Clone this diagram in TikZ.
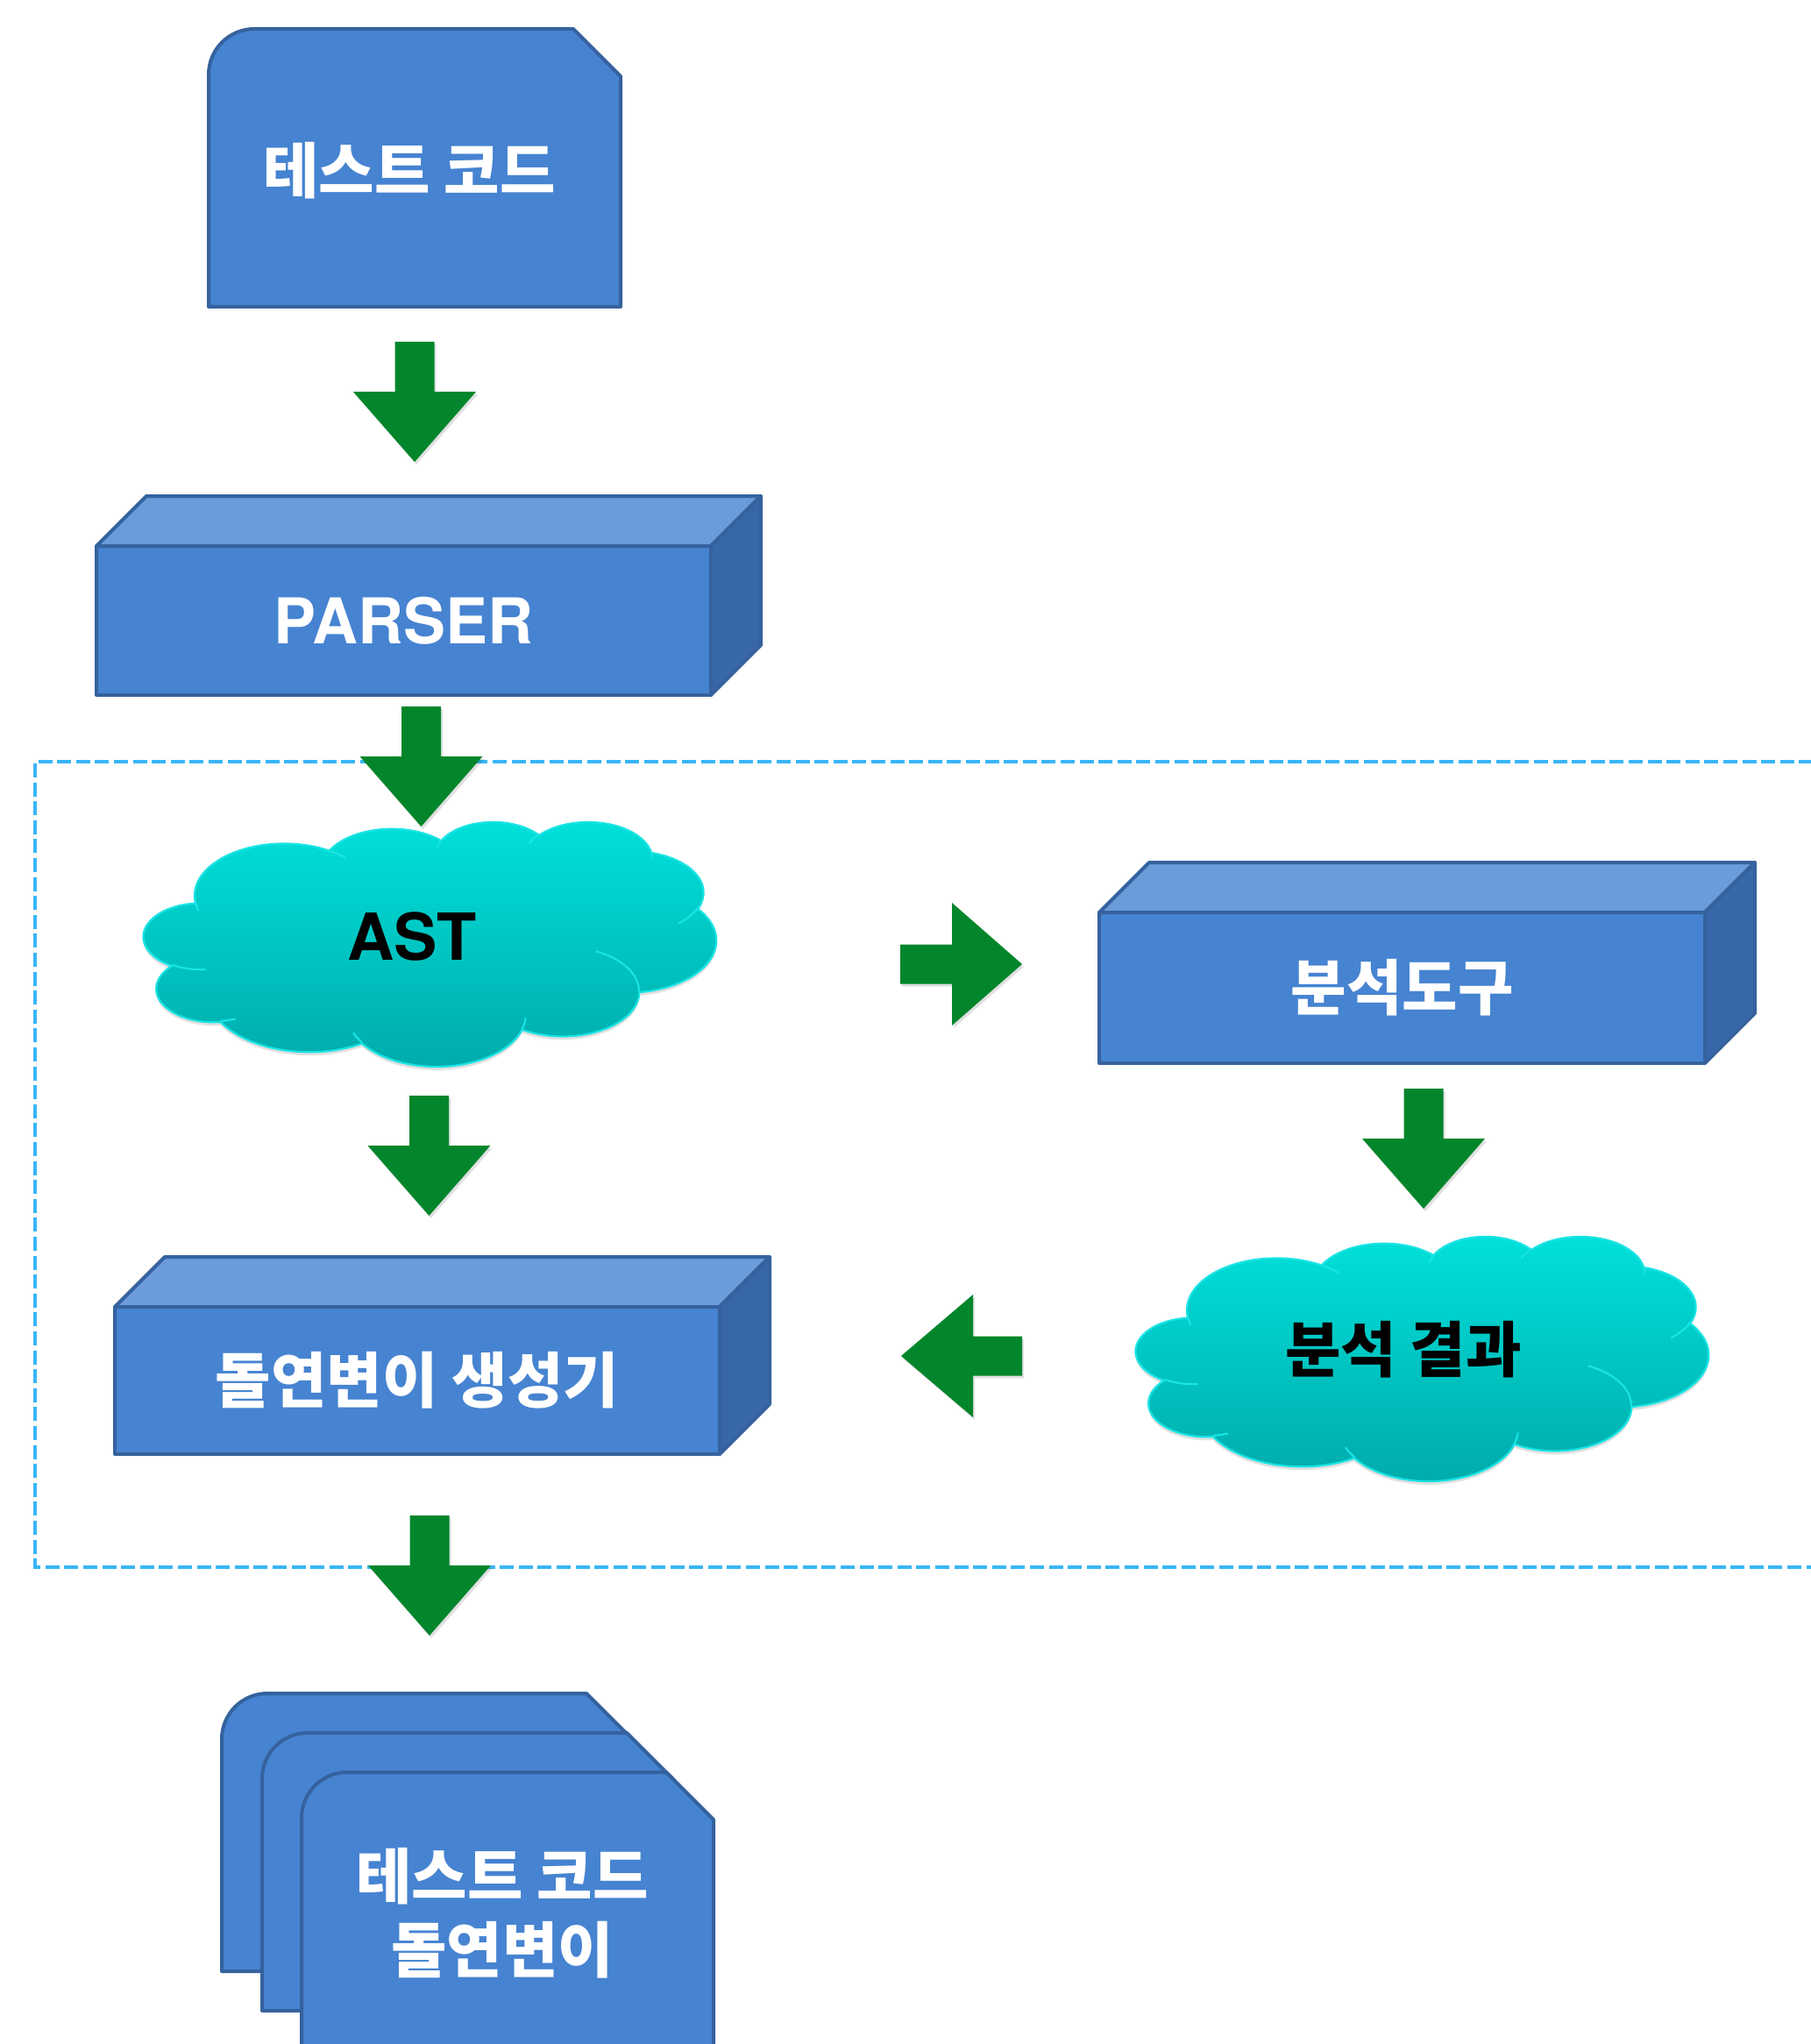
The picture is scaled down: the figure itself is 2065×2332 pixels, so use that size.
\documentclass[tikz,border=0pt]{standalone}
\usepackage{fontspec}
\setmainfont{TeX Gyre Heros}
\newfontfamily\krfont{Noto Sans CJK KR}
\definecolor{boxblue}{HTML}{4683D1}
\definecolor{boxline}{HTML}{35629E}
\definecolor{boxtop}{HTML}{6A9BDB}
\definecolor{boxside}{HTML}{3867A9}
\definecolor{agreen}{HTML}{03862B}
\definecolor{dashblue}{HTML}{38B6F7}
\definecolor{cloudtop}{HTML}{00E1DB}
\definecolor{cloudbot}{HTML}{00AAAA}
\definecolor{cloudedge}{HTML}{19E4E4}

\newcommand\cldarc[4]{arc[start angle={cldt(#1,#2,#3)},delta angle={cldd(#1,#2,#3,#4)},x radius=#1,y radius=#2]}
\newcommand\cldouter{(39.00,143.70)
 \cldarc{67.53}{91.90}{-190.4875}{123.7805}
 \cldarc{53.33}{72.67}{-144.1024}{89.9452}
 \cldarc{43.65}{59.45}{-145.8079}{99.7230}
 \cldarc{48.57}{65.95}{-130.9861}{117.2417}
 \cldarc{53.33}{72.73}{-78.7089}{109.0269}
 \cldarc{67.75}{92.20}{-46.2673}{130.2690}
 \cldarc{57.85}{78.67}{0.6250}{114.0333}
 \cldarc{67.52}{92.15}{22.4516}{115.1726}
 \cldarc{77.20}{105.43}{66.2426}{75.7110}
 \cldarc{43.60}{59.18}{-274.9421}{146.7356}
 \cldarc{43.45}{59.45}{-246.8285}{152.5189} -- cycle}
\newcommand\cldinner{(46.93,261.77) \cldarc{43.45}{59.45}{86.7420}{26.4295}
 (69.28,348.99) \cldarc{43.60}{59.18}{73.6105}{11.4475}
 (164.78,390.90) \cldarc{67.52}{92.15}{137.6242}{14.0811}
 (288.27,347.51) \cldarc{67.52}{92.15}{6.4533}{15.9984}
 (341.29,229.54) \cldarc{57.85}{78.67}{-70.2924}{70.9174}
 (417.98,153.54) \cldarc{53.33}{72.73}{30.3180}{27.7515}
 (383.24,54.26) \cldarc{48.57}{65.95}{-13.7443}{14.8589}
 (290.78,39.52) \cldarc{48.57}{65.95}{-149.1815}{18.1954}
 (221.41,47.20) \cldarc{43.65}{59.45}{-163.4943}{17.6864}
 (140.00,51.92) \cldarc{67.53}{91.90}{-66.7070}{12.3194}
 (41.27,157.89) \cldarc{67.53}{91.90}{157.6544}{11.8582}}
\newcommand\pptcloud[4]{%
 \begin{scope}[shift={(#1,#2)},xscale=#3/432,yscale=#4/432]
  \fill[black,opacity=0.12,yshift=-3pt] \cldouter;
  \path[top color=cloudtop,bottom color=cloudbot,draw=cloudedge,line width=1.1pt] \cldouter;
  \draw[cloudedge,line width=1.1pt] \cldinner;
 \end{scope}}
\newcommand\docshape[2]{%
 \filldraw[card] (#1,#2+317) -- (#1,#2+52) arc[start angle=180,end angle=90,radius=26pt]
   -- (#1+416,#2) -- (#1+470,#2+54) -- (#1+470,#2+317) -- cycle;}
\newcommand\cubefaces[1]{%
 \filldraw[topface] (#1.north west) -- ++(57,-57) -- ([shift={(57,-57)}]#1.north east) -- (#1.north east) -- cycle;
 \filldraw[sideface] (#1.north east) -- ++(57,-57) -- ([shift={(57,-57)}]#1.south east) -- (#1.south east) -- cycle;}

\begin{document}
\begin{tikzpicture}[x=0.5pt,y=-0.5pt,
  declare function={cldt(\rw,\rh,\ang)=atan2(\rw*sin(\ang),\rh*cos(\ang));
    cldd(\rw,\rh,\ang,\swp)=mod(cldt(\rw,\rh,\ang+\swp)-cldt(\rw,\rh,\ang)+720,360);},
  front/.style={draw=boxline,fill=boxblue,line width=2pt,outer sep=0pt,inner sep=0pt,text=white,line join=round},
  topface/.style={draw=boxline,fill=boxtop,line width=2pt,line join=round},
  sideface/.style={draw=boxline,fill=boxside,line width=2pt,line join=round},
  card/.style={draw=boxline,fill=boxblue,line width=2pt,line join=round},
  krw/.style={text=white,font=\krfont\bfseries\fontsize{34.5pt}{42pt}\selectfont},
  krb/.style={text=black,font=\krfont\bfseries\fontsize{34.5pt}{42pt}\selectfont},
  latw/.style={font=\bfseries\fontsize{36pt}{42pt}\selectfont},
  garrow/.style={fill=agreen},
  ashadow/.style={fill=black,opacity=0.12},
  dashframe/.style={draw=dashblue,line width=2.3pt,dash pattern=on 8pt off 2.8pt},
  pics/downarrow/.style={code={
    \fill[ashadow,xshift=1pt,yshift=-1.5pt] (-22.5,0) -- (22.5,0) -- (22.5,57) -- (70,57) -- (0,137) -- (-70,57) -- (-22.5,57) -- cycle;
    \fill[garrow] (-22.5,0) -- (22.5,0) -- (22.5,57) -- (70,57) -- (0,137) -- (-70,57) -- (-22.5,57) -- cycle;}},
  pics/rightarrow/.style={code={
    \fill[ashadow,xshift=1pt,yshift=-1.5pt] (0,-22.5) -- (59,-22.5) -- (59,-70) -- (139,0) -- (59,70) -- (59,22.5) -- (0,22.5) -- cycle;
    \fill[garrow] (0,-22.5) -- (59,-22.5) -- (59,-70) -- (139,0) -- (59,70) -- (59,22.5) -- (0,22.5) -- cycle;}},
  pics/leftarrow/.style={code={
    \fill[ashadow,xshift=1pt,yshift=-1.5pt] (0,-22.5) -- (-56,-22.5) -- (-56,-70) -- (-138,0) -- (-56,70) -- (-56,22.5) -- (0,22.5) -- cycle;
    \fill[garrow] (0,-22.5) -- (-56,-22.5) -- (-56,-70) -- (-138,0) -- (-56,70) -- (-56,22.5) -- (0,22.5) -- cycle;}}
]
\useasboundingbox (0,0) rectangle (2065,2332);

% dashed frame
\draw[dashframe] (2090,869) -- (40,869) -- (40,1788) -- (2090,1788);

% top card
\docshape{238}{33}
\node[krw] (testcode) at (467,195) {테스트 코드};

% parser box
\node[front,latw,minimum width=350.5pt,minimum height=85pt] (parser) at (460.5,708) {PARSER};
\cubefaces{parser}

% clouds
\pptcloud{164}{937}{653}{279}
\node[font=\bfseries\fontsize{37pt}{42pt}\selectfont] (ast) at (470,1069) {AST};
\pptcloud{1296}{1410}{653}{279}
\node[krb] (result) at (1601,1540) {분석 결과};

% analysis tool box
\node[front,krw,minimum width=345.5pt,minimum height=86pt] (tool) at (1599.5,1127) {분석도구};
\cubefaces{tool}

% mutant generator box
\node[front,krw,minimum width=345pt,minimum height=84pt] (gen) at (476,1575) {돌연변이 생성기};
\cubefaces{gen}

% stacked output cards
\docshape{253}{1932}
\docshape{299}{1977}
\docshape{344}{2022}
\node[krw,align=center] (mutants) at (573,2183) {테스트 코드\\돌연변이};

% block arrows
\pic at (473,390) {downarrow};
\pic at (480.5,806) {downarrow};
\pic at (489.5,1250) {downarrow};
\pic at (490,1729) {downarrow};
\pic at (1624,1242) {downarrow};
\pic at (1027,1100) {rightarrow};
\pic at (1166,1547) {leftarrow};
\end{tikzpicture}
\end{document}
